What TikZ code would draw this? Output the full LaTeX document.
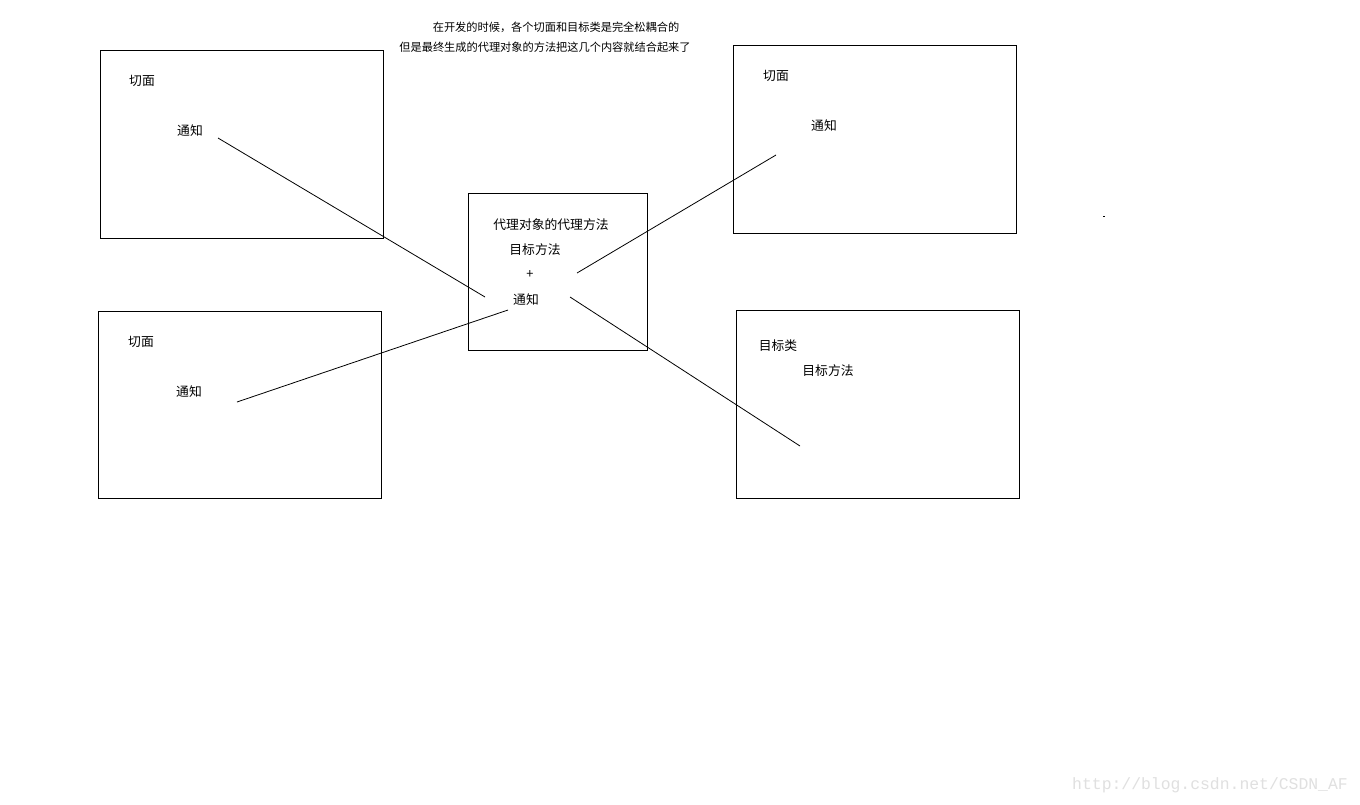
\documentclass[tikz,border=0pt]{standalone}
\usepackage{fontspec}
\setmainfont{Liberation Sans}
\newfontfamily\cjk{Noto Sans CJK SC}
\newfontfamily\wmfont{Liberation Mono}
\begin{document}
\begin{tikzpicture}[x=0.75pt,y=-0.75pt,
  box/.style={draw=black,line width=0.75pt},
  lbl/.style={inner sep=0pt,font=\cjk\fontsize{9.6}{11}\selectfont},
  note/.style={inner sep=0pt,font=\cjk\fontsize{8.4}{10}\selectfont},
  conn/.style={draw=black,line width=0.6pt}]
\useasboundingbox[fill=white] (0,0) rectangle (1360,804);
% boxes
\draw[box] (100,50) rectangle (383,238);
\draw[box] (98,311) rectangle (381,498);
\draw[box] (468,193) rectangle (647,350);
\draw[box] (733,45) rectangle (1016,233);
\draw[box] (736,310) rectangle (1019,498);
% top note
\node[note] (n1) at (556,27.5) {在开发的时候，各个切面和目标类是完全松耦合的};
\node[note] (n2) at (545,47.5) {但是最终生成的代理对象的方法把这几个内容就结合起来了};
% texts
\node[lbl] (tlq) at (142,81) {切面};
\node[lbl] (tlt) at (190,131) {通知};
\node[lbl] (blq) at (141,342) {切面};
\node[lbl] (blt) at (189,392) {通知};
\node[lbl] (trq) at (776,76) {切面};
\node[lbl] (trt) at (824,126) {通知};
\node[lbl] (brc) at (778,346) {目标类};
\node[lbl] (brm) at (828,371) {目标方法};
\node[lbl] (cp) at (551,225) {代理对象的代理方法};
\node[lbl] (cm) at (535,250) {目标方法};
\node[lbl] (cplus) at (530,275) {+};
\node[lbl] (ct) at (526,300) {通知};
% connector endpoints
\coordinate (a1) at (218,138);
\coordinate (a2) at (485,297);
\coordinate (b1) at (237,402);
\coordinate (b2) at (508,310);
\coordinate (c1) at (577,273);
\coordinate (c2) at (776,155);
\coordinate (d1) at (570,297);
\coordinate (d2) at (800,446);
\draw[conn] (a1) -- (a2);
\draw[conn] (b1) -- (b2);
\draw[conn] (c1) -- (c2);
\draw[conn] (d1) -- (d2);
% dot
\fill[black] (1103,215.5) rectangle (1105,217);
% watermark
\node[inner sep=0pt,text=black!12,font=\wmfont\fontsize{12.3}{14}\selectfont] (wm) at (1210,785) {http://blog.csdn.net/CSDN\_AF};
\end{tikzpicture}
\end{document}
